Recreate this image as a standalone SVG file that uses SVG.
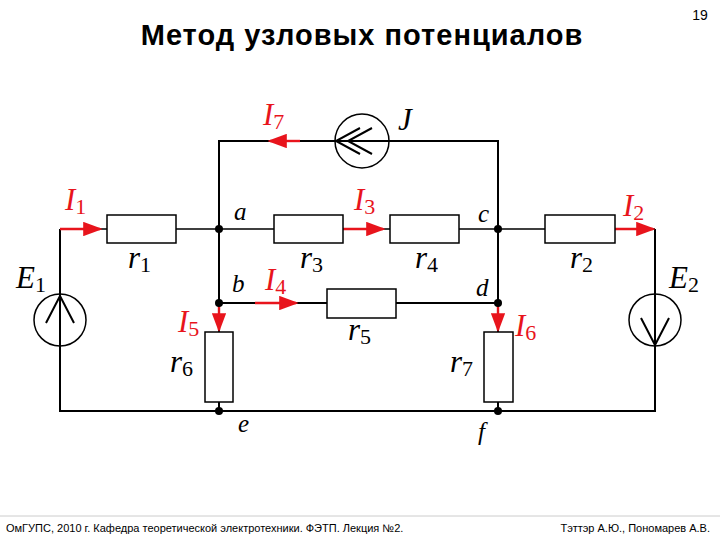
<svg xmlns="http://www.w3.org/2000/svg" width="720" height="540" viewBox="0 0 720 540">
<defs>
<marker id="ah" markerWidth="8" markerHeight="6" refX="7" refY="3" orient="auto" markerUnits="strokeWidth"><path d="M0,0 L8,3 L0,6 Z" fill="#e8141c"/></marker>
</defs>
<style>
.w{stroke:#000;stroke-width:2;fill:none}
.t{stroke:#000;stroke-width:1.5;fill:none}
.r{fill:#fff;stroke:#000;stroke-width:1.5}
.c{stroke:#e8141c;stroke-width:2.4;fill:none;marker-end:url(#ah)}
.lb{font-family:'Liberation Serif',serif;font-style:italic;font-size:31px;fill:#000}
.lr{font-family:'Liberation Serif',serif;font-style:italic;font-size:31px;fill:#e8141c}
.sb{font-size:22px;font-style:normal}
.n{font-family:'Liberation Serif',serif;font-style:italic;font-size:25px}
.dot{fill:#000}
.f{font-family:'Liberation Sans',sans-serif;font-size:11px}
</style>
<rect width="720" height="540" fill="#fff"/>
<text x="362" y="45" text-anchor="middle" font-family="'Liberation Sans',sans-serif" font-weight="bold" font-size="29" letter-spacing="1">Метод узловых потенциалов</text>
<text x="700" y="20" text-anchor="middle" font-family="'Liberation Sans',sans-serif" font-size="14">19</text>
<g id="connectors">
<path class="w" d="M60,229 V411 H655 V229"/>
<path class="t" d="M60,229 H219 M219,229 H498 M498,229 H655"/>
<path class="w" d="M219,229 V141 H498 V303 M219,229 V332 M219,402 V411 M498,303 V332 M498,402 V411 M219,303 H498"/>
<path class="c" d="M60,229 H100"/>
<path class="c" d="M300,141 H270"/>
<path class="c" d="M343,229 H383"/>
<path class="c" d="M255,303 H296"/>
<path class="c" d="M219,303 V330"/>
<path class="c" d="M498,303 V330"/>
<path class="c" d="M615,229 H653"/>
</g>
<g id="r1"><rect class="r" x="107" y="215" width="69" height="28"/><text class="lb" x="128" y="268">r<tspan class="sb" dy="4">1</tspan></text></g>
<g id="r3"><rect class="r" x="274" y="215" width="69" height="28"/><text class="lb" x="300" y="268">r<tspan class="sb" dy="4">3</tspan></text></g>
<g id="r4"><rect class="r" x="390" y="215" width="69" height="28"/><text class="lb" x="415" y="268">r<tspan class="sb" dy="4">4</tspan></text></g>
<g id="r2"><rect class="r" x="545" y="215" width="70" height="28"/><text class="lb" x="570" y="268">r<tspan class="sb" dy="4">2</tspan></text></g>
<g id="r5"><rect class="r" x="327" y="289" width="69" height="29"/><text class="lb" x="348" y="340">r<tspan class="sb" dy="4">5</tspan></text></g>
<g id="r6"><rect class="r" x="205" y="332" width="28" height="70"/><text class="lb" x="170" y="372">r<tspan class="sb" dy="4">6</tspan></text></g>
<g id="r7"><rect class="r" x="484" y="332" width="29" height="70"/><text class="lb" x="450" y="372">r<tspan class="sb" dy="4">7</tspan></text></g>
<g id="E1"><circle class="t" cx="60" cy="320" r="26" fill="#fff"/><path class="w" stroke-width="2.6" d="M60,347 V296 M46,323 L60,296 L74,323"/><text class="lb" x="16" y="288">E<tspan class="sb" dy="4">1</tspan></text></g>
<g id="E2"><circle class="t" cx="655" cy="320" r="26" fill="#fff"/><path class="w" stroke-width="2.6" d="M655,294 V345 M641,318 L655,345 L669,318"/><text class="lb" x="669" y="288">E<tspan class="sb" dy="4">2</tspan></text></g>
<g id="J"><circle class="t" cx="362" cy="141" r="27" fill="#fff"/><path class="w" stroke-width="2.6" d="M335,141 H389 M360,128 L336,141 L360,154 M372,128 L348,141 L372,154"/><text class="lb" x="398" y="130">J</text></g>
<g id="a"><circle class="dot" cx="219" cy="229" r="4"/><text class="n" x="234" y="220">a</text></g>
<g id="b"><circle class="dot" cx="219" cy="303" r="4"/><text class="n" x="232" y="292">b</text></g>
<g id="c"><circle class="dot" cx="498" cy="229" r="4"/><text class="n" x="478" y="222">c</text></g>
<g id="d"><circle class="dot" cx="498" cy="303" r="4"/><text class="n" x="476" y="296">d</text></g>
<g id="e"><circle class="dot" cx="219" cy="411" r="4"/><text class="n" x="238" y="432">e</text></g>
<g id="f"><circle class="dot" cx="498" cy="411" r="4"/><text class="n" x="478" y="440">f</text></g>
<g id="currents">
<text class="lr" x="65" y="210">I<tspan class="sb" dy="4">1</tspan></text>
<text class="lr" x="263" y="125">I<tspan class="sb" dy="4">7</tspan></text>
<text class="lr" x="354" y="210">I<tspan class="sb" dy="4">3</tspan></text>
<text class="lr" x="265" y="290">I<tspan class="sb" dy="4">4</tspan></text>
<text class="lr" x="178" y="332">I<tspan class="sb" dy="4">5</tspan></text>
<text class="lr" x="515" y="336">I<tspan class="sb" dy="4">6</tspan></text>
<text class="lr" x="623" y="216">I<tspan class="sb" dy="4">2</tspan></text>
</g>
<line x1="0" y1="516" x2="720" y2="516" stroke="#ccc" stroke-width="1"/>
<text class="f" x="6" y="532">ОмГУПС, 2010 г. Кафедра теоретической электротехники. ФЭТП. Лекция №2.</text>
<text class="f" x="710" y="532" text-anchor="end">Тэттэр А.Ю., Пономарев А.В.</text>
</svg>
